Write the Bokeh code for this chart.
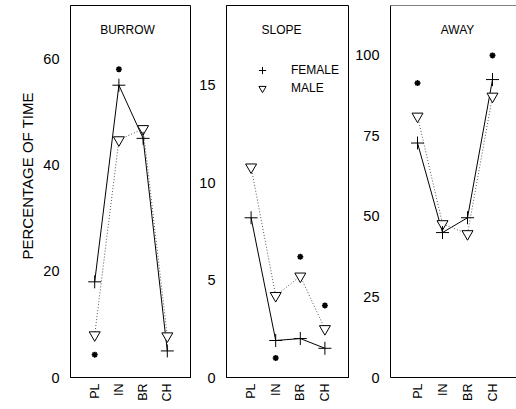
import math
from bokeh.plotting import figure
from bokeh.layouts import row
from bokeh.models import Range1d, FixedTicker, Label, Legend, LegendItem, Span, Title
from bokeh.embed import file_html
from bokeh.resources import INLINE

# ---------------- data ----------------
categories = ["PL", "IN", "BR", "CH"]
y_label = "PERCENTAGE OF TIME"
series_names = ["FEMALE", "MALE"]

burrow_title = "BURROW"
burrow_female = [18, 55, 45, 5]
burrow_male = [8, 44.7, 46.8, 7.8]
burrow_sig_cat = ["PL", "IN"]
burrow_sig_val = [4.3, 58]
burrow_ticks = [0, 20, 40, 60]

slope_title = "SLOPE"
slope_female = [8.2, 1.9, 2.0, 1.5]
slope_male = [10.8, 4.2, 5.2, 2.5]
slope_sig_cat = ["IN", "BR", "CH"]
slope_sig_val = [1.0, 6.2, 3.7]
slope_ticks = [0, 5, 10, 15]

away_title = "AWAY"
away_female = [72.8, 45.0, 49.6, 92.5]
away_male = [81.1, 47.7, 44.6, 87.3]
away_sig_cat = ["PL", "CH"]
away_sig_val = [91.4, 100]
away_ticks = [0, 25, 50, 75, 100]

# ---------------- styling ----------------
FONT = "Liberation Sans"
TOP = 5
FRAME_H = 372
BOTTOM = 30
H = TOP + FRAME_H + BOTTOM


def xpos(cats):
    return [categories.index(c) + 1 for c in cats]


def make_panel(width, left_border, x_start, x_end, y_end, female, male, sig_cat,
               sig_val, ticks, title, title_x, full_outline=True):
    p = figure(width=width, height=H, output_backend="svg", toolbar_location=None,
               x_range=Range1d(x_start, x_end), y_range=Range1d(0, y_end),
               min_border_left=left_border, min_border_right=0,
               min_border_top=TOP, min_border_bottom=BOTTOM)
    p.xgrid.visible = False
    p.ygrid.visible = False
    p.background_fill_color = "white"
    p.border_fill_color = "white"
    p.outline_line_color = "black" if full_outline else None
    p.outline_line_width = 1

    xs = xpos(categories)
    p.line(xs, female, line_color="black", line_width=1)
    p.line(xs, male, line_color="#555555", line_width=1, line_dash="1 2")
    r_m = p.scatter(xs, male, marker="inverted_triangle", size=11,
                    fill_color="white", line_color="black", line_width=1)
    r_f = p.scatter(xs, female, marker="cross", size=13,
                    line_color="black", line_width=1)
    p.scatter(xpos(sig_cat), sig_val, marker="asterisk", size=6,
              line_color="black", line_width=1.6)

    # axes
    for ax in (p.xaxis[0], p.yaxis[0]):
        ax.axis_line_color = "black"
        ax.major_tick_out = 0
        ax.major_tick_in = 0
        ax.minor_tick_out = 0
        ax.minor_tick_in = 0
        ax.major_label_text_font = FONT
        ax.major_label_text_color = "black"
    p.xaxis.ticker = FixedTicker(ticks=xs)
    p.xaxis.major_label_overrides = {x: c for x, c in zip(xs, categories)}
    p.xaxis.major_label_orientation = math.pi / 2
    p.xaxis.major_label_text_font_size = "12.5px"
    p.xaxis.major_label_standoff = 6
    p.yaxis.ticker = FixedTicker(ticks=ticks)
    p.yaxis.major_label_text_font_size = "14.5px"
    p.yaxis.major_label_standoff = 11

    p.add_layout(Label(x=title_x, y=348, x_units="screen", y_units="screen",
                       text=title, text_font=FONT, text_font_size="12px",
                       text_align="center", text_baseline="middle",
                       text_color="black"))
    if not full_outline:
        p.add_layout(Span(location=y_end, dimension="width",
                          line_color="black", line_width=1))
    return p, r_f, r_m


p1, _, _ = make_panel(191, 70, 0, 5, 70.0, burrow_female, burrow_male,
                      burrow_sig_cat, burrow_sig_val, burrow_ticks, burrow_title, 57)
p1.add_layout(Title(text=y_label, align="left", offset=118, standoff=9,
                    text_font=FONT, text_font_size="15px",
                    text_font_style="normal", text_color="black"), "left")

p2, rf, rm = make_panel(158, 35, 0, 5, 19.1, slope_female, slope_male,
                        slope_sig_cat, slope_sig_val, slope_ticks, slope_title, 55)
legend = Legend(items=[LegendItem(label=series_names[0], renderers=[rf]),
                       LegendItem(label=series_names[1], renderers=[rm])],
                location=(26, 280), border_line_color=None,
                background_fill_alpha=0, padding=0, spacing=0, margin=0,
                label_standoff=19, glyph_width=20, glyph_height=18,
                label_height=18, label_text_font=FONT,
                label_text_font_size="12px", label_text_color="black")
p2.add_layout(legend)

p3, _, _ = make_panel(167, 41, -0.08, 4.96, 115.5, away_female, away_male,
                      away_sig_cat, away_sig_val, away_ticks, away_title, 67,
                      full_outline=False)

layout = row(p1, p2, p3, spacing=0)
open("out.html", "w").write(file_html(layout, INLINE))
